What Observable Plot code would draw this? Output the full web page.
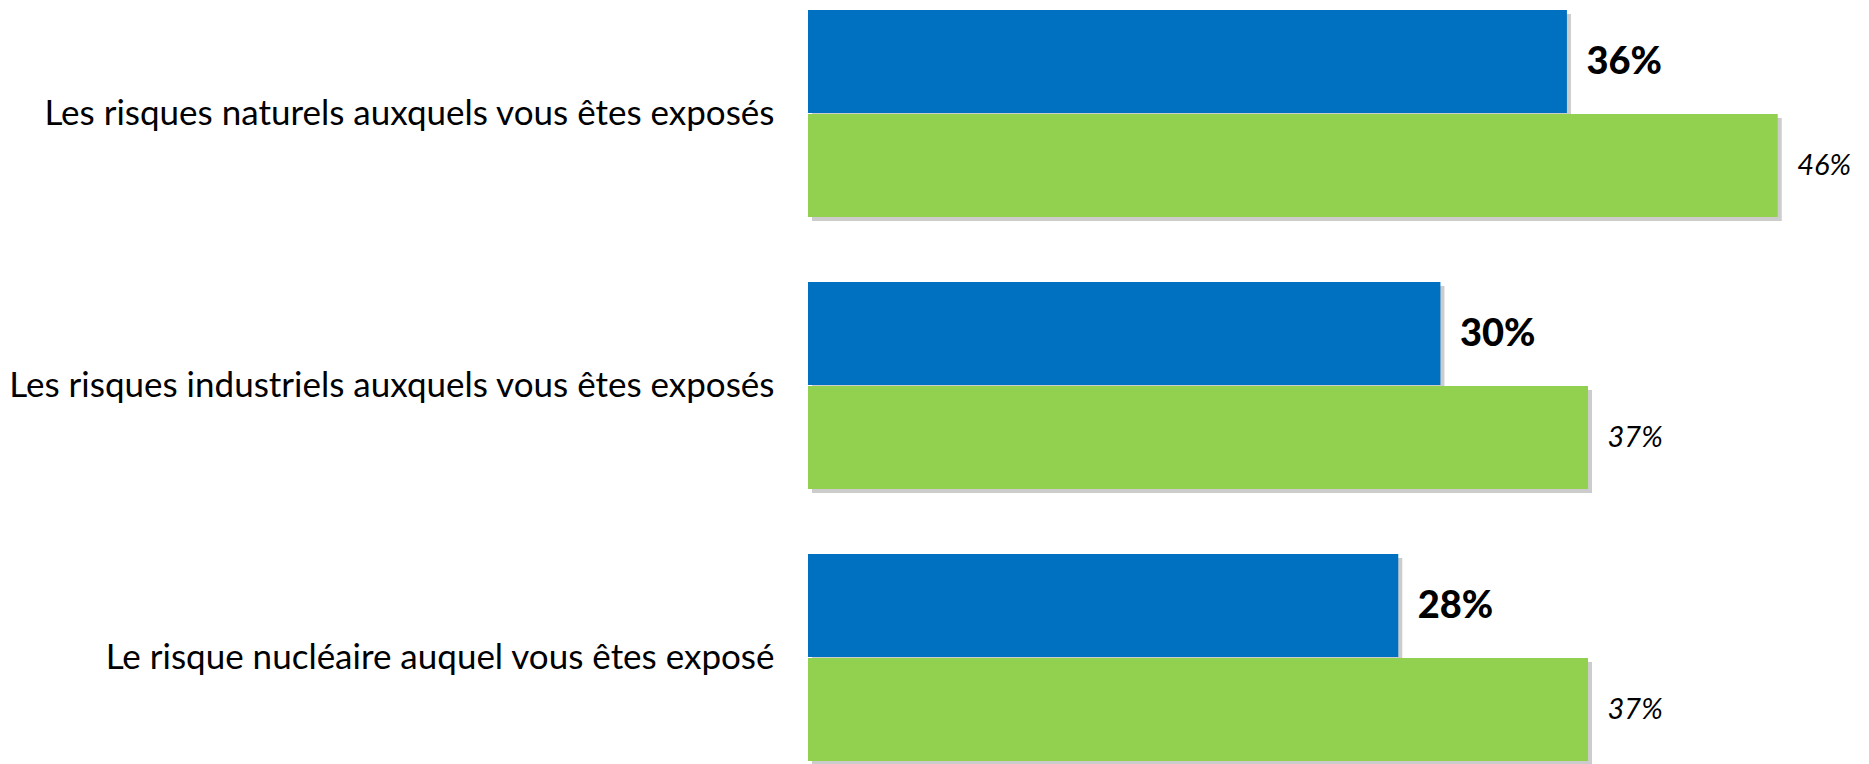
<!DOCTYPE html>
<html>
<head>
<meta charset="utf-8">
<script src="https://cdn.jsdelivr.net/npm/d3@7"></script>
<script src="https://cdn.jsdelivr.net/npm/@observablehq/plot@0.6"></script>
<style>
  html, body { margin: 0; padding: 0; background: #fff; }
  #chart svg { display: block; }
</style>
</head>
<body>
<div id="chart"></div>
<script>
const categories = [
  "Les risques naturels auxquels vous êtes exposés",
  "Les risques industriels auxquels vous êtes exposés",
  "Le risque nucléaire auquel vous êtes exposé"
];
const seriesNames = ["A", "B"];
const valuesA = [36, 30, 28];
const valuesB = [46, 37, 37];
const seriesColors = ["#0070C0", "#92D050"];

const rows = [];
categories.forEach((c, i) => {
  rows.push({category: c, series: seriesNames[0], value: valuesA[i]});
  rows.push({category: c, series: seriesNames[1], value: valuesB[i]});
});
const rowsA = rows.filter(d => d.series === seriesNames[0]);
const rowsB = rows.filter(d => d.series === seriesNames[1]);

const chart = Plot.plot({
  width: 1869,
  height: 764,
  marginLeft: 808,
  marginRight: 0,
  marginTop: 8,
  marginBottom: 1,
  style: {fontFamily: "Lato, sans-serif", color: "#000", background: "#fff"},
  x: {domain: [0, 50.33], axis: null},
  y: {domain: seriesNames, axis: null, paddingInner: 0.013, paddingOuter: 0},
  fy: {domain: categories, paddingInner: 0.234, paddingOuter: 0, label: null},
  color: {domain: seriesNames, range: seriesColors},
  marks: [
    Plot.axisFy({anchor: "left", tickSize: 0, tickPadding: 34, fontSize: 35, label: null}),
    Plot.barX(rows, {x: "value", y: "series", fy: "category", fill: "#cccccc", dx: 4, dy: 4}),
    Plot.barX(rows, {x: "value", y: "series", fy: "category", fill: "series"}),
    Plot.text(rowsA, {x: "value", y: "series", fy: "category", text: d => d.value + "%", textAnchor: "start", dx: 19, fontSize: 38, fontWeight: 900, fill: "#000"}),
    Plot.text(rowsB, {x: "value", y: "series", fy: "category", text: d => d.value + "%", textAnchor: "start", dx: 19, fontSize: 29, fontStyle: "italic", fill: "#000"})
  ]
});
document.getElementById("chart").appendChild(chart);
</script>
</body>
</html>
